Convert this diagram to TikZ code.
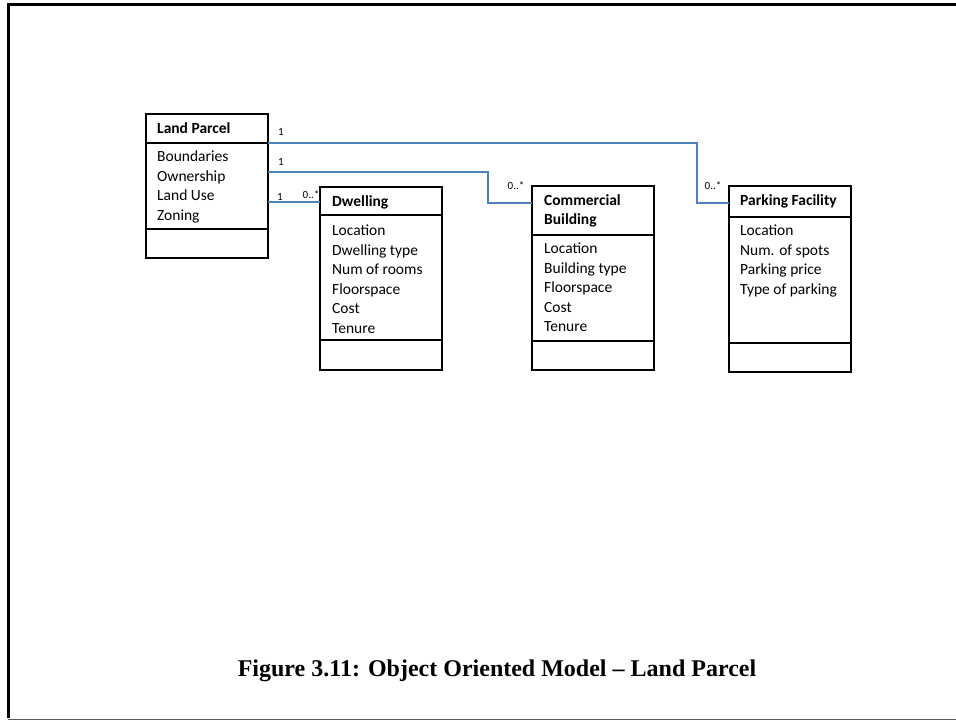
\documentclass[tikz,border=0pt]{standalone}
\usepackage{fontspec}
\setmainfont{Carlito}
\newfontfamily\capfont{Liberation Serif}
\usepackage{tikz}
\usetikzlibrary{positioning,calc}
\definecolor{linkblue}{HTML}{4F81BD}
\definecolor{framegray}{HTML}{5A5A5A}

\begin{document}
\begin{tikzpicture}[x=1pt,y=-1pt,
  cls/.style={draw=black,line width=1.4pt,minimum width=122pt,inner sep=0pt,
              outer sep=0pt,anchor=north west},
  divline/.style={draw=black,line width=1.4pt},
  cname/.style={font=\bfseries\fontsize{15.5}{19.5}\selectfont,inner sep=0pt,
                anchor=north west,align=left},
  attrs/.style={font=\fontsize{15.5}{19.5}\selectfont,inner sep=0pt,
                anchor=north west,align=left},
  mult/.style={font=\fontsize{11}{13}\selectfont,inner sep=0pt},
  link/.style={draw=linkblue,line width=1.2pt}]
  \useasboundingbox (0,0) rectangle (956,721);
  % page frame
  \draw[line width=3pt] (7,4.5) -- (956,4.5);
  \draw[line width=3pt] (8.5,3) -- (8.5,718);
  \draw[framegray,line width=1.5pt] (8,719.5) -- (956,719.5);

  % classes
  \node[cls,minimum height=144pt] (lp) at (146,114) {};
  \node[cls,minimum height=183pt] (dw) at (320,187) {};
  \node[cls,minimum height=184pt] (cb) at (532,186) {};
  \node[cls,minimum height=186pt] (pf) at (729,186) {};

  % compartments
  \draw[divline] ($(lp.north west)+(0,29)$) -- ($(lp.north east)+(0,29)$);
  \draw[divline] ($(lp.south west)+(0,-29)$) -- ($(lp.south east)+(0,-29)$);
  \draw[divline] ($(dw.north west)+(0,28)$) -- ($(dw.north east)+(0,28)$);
  \draw[divline] ($(dw.south west)+(0,-30)$) -- ($(dw.south east)+(0,-30)$);
  \draw[divline] ($(cb.north west)+(0,49)$) -- ($(cb.north east)+(0,49)$);
  \draw[divline] ($(cb.south west)+(0,-29)$) -- ($(cb.south east)+(0,-29)$);
  \draw[divline] ($(pf.north west)+(0,31)$) -- ($(pf.north east)+(0,31)$);
  \draw[divline] ($(pf.south west)+(0,-29)$) -- ($(pf.south east)+(0,-29)$);

  % names and attributes
  \node[cname] (lpname) at ($(lp.north west)+(11,8)$) {Land Parcel};
  \node[attrs] (lpattr) at ($(lp.north west)+(11,37)$)
       {Boundaries\\Ownership\\Land Use\\Zoning};
  \node[cname] (dwname) at ($(dw.north west)+(12,8)$) {Dwelling};
  \node[attrs] (dwattr) at ($(dw.north west)+(12,38)$)
       {Location\\Dwelling type\\Num of rooms\\Floorspace\\Cost\\Tenure};
  \node[cname] (cbname) at ($(cb.north west)+(12,8)$) {Commercial\\Building};
  \node[attrs] (cbattr) at ($(cb.north west)+(12,57)$)
       {Location\\Building type\\Floorspace\\Cost\\Tenure};
  \node[cname] (pfname) at ($(pf.north west)+(11,8)$) {Parking Facility};
  \node[attrs] (pfattr) at ($(pf.north west)+(11,39)$)
       {Location\\Num. of spots\\Parking price\\Type of parking};

  % associations
  \draw[link] ($(lp.north east)+(0,29)$) -| ($(pf.north west)+(-32,17)$)
              -- ($(pf.north west)+(0,17)$);
  \draw[link] ($(lp.north east)+(0,58)$) -| ($(cb.north west)+(-44,17)$)
              -- ($(cb.north west)+(0,17)$);
  \draw[link] ($(lp.north east)+(0,88)$) -- ($(dw.north west)+(0,15)$);

  % multiplicities
  \node[mult] (m1) at ($(lp.north east)+(13,18)$) {1};
  \node[mult] (m2) at ($(lp.north east)+(13,48)$) {1};
  \node[mult] (m3) at ($(lp.north east)+(12,83)$) {1};
  \node[mult] (m4) at ($(dw.north west)+(-9,8)$) {0..*};
  \node[mult] (m5) at ($(cb.north west)+(-16,0)$) {0..*};
  \node[mult] (m6) at ($(pf.north west)+(-16,0)$) {0..*};

  % caption
  \node[font=\capfont\bfseries\fontsize{24}{28}\selectfont] (caption) at (497,671)
       {Figure 3.11: Object Oriented Model – Land Parcel};
\end{tikzpicture}
\end{document}
